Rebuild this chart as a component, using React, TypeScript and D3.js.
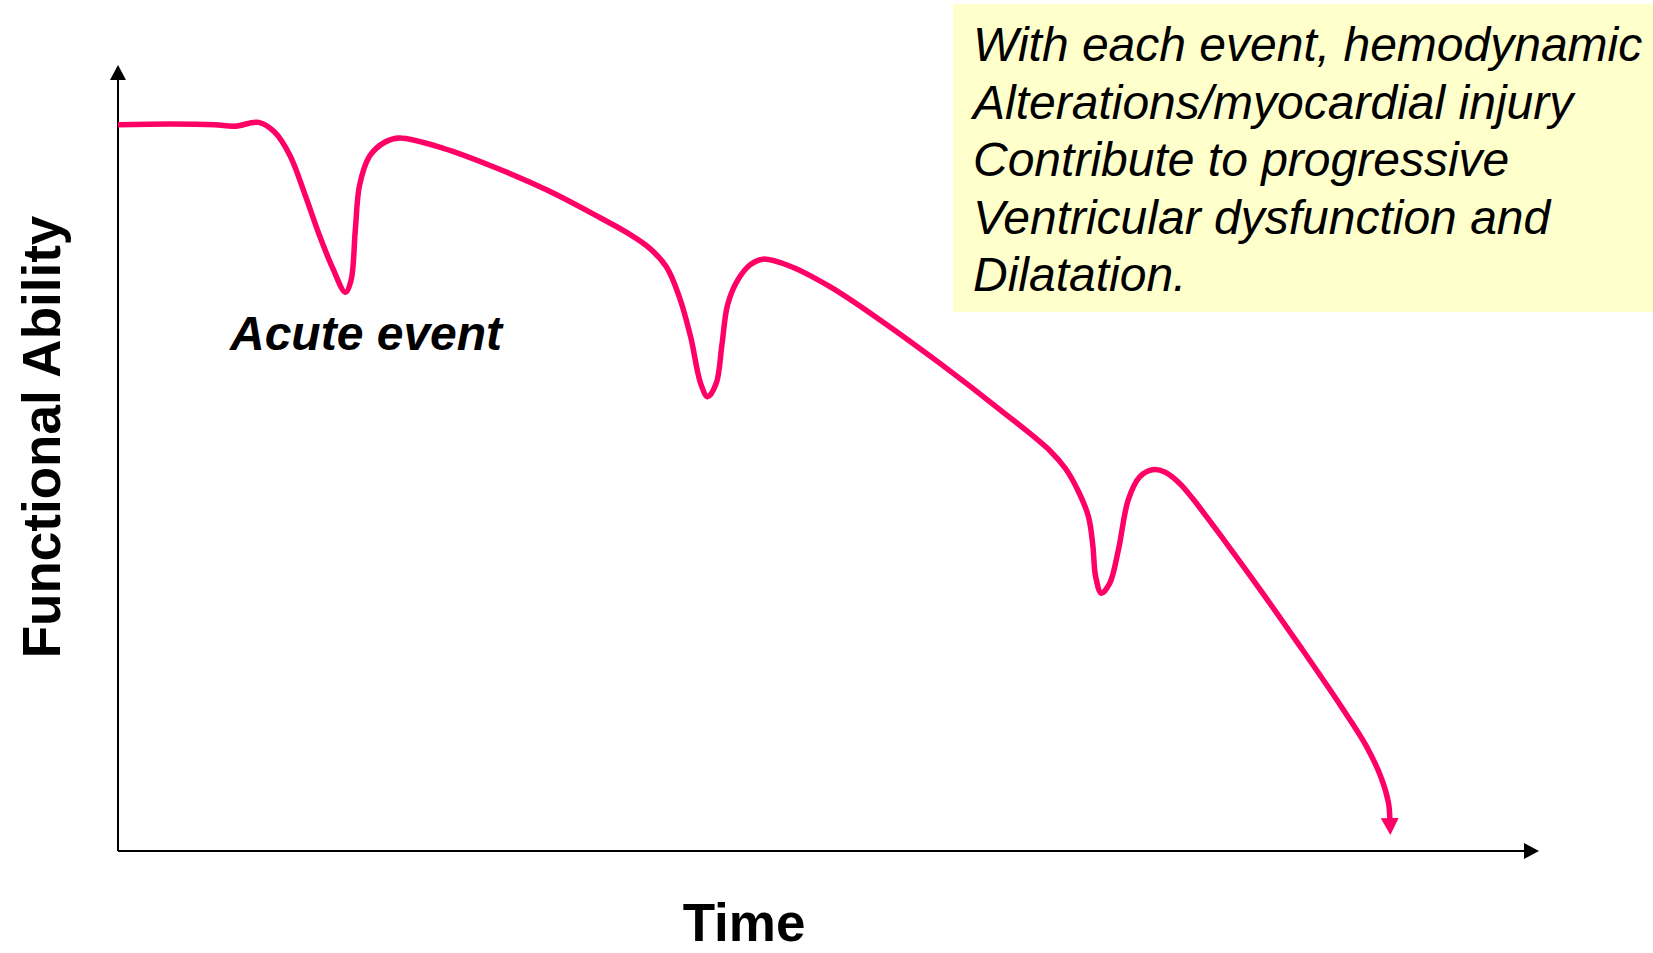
import React from "react";
import * as d3 from "d3";

// time (0-100) vs functional ability (0-100)
const times = [
  0.0, 3.7, 6.8, 8.2, 9.9, 11.0, 12.1, 13.2, 14.2, 15.1, 16.0, 16.4, 16.7, 17.0,
  17.7, 18.8, 19.8, 22.9, 26.5, 30.3, 34.0, 35.7, 37.4, 38.6, 39.5, 40.3, 41.0,
  41.5, 42.1, 42.5, 42.9, 43.6, 44.5, 45.4, 47.3, 50.1, 53.6, 57.8, 62.1, 65.6,
  66.7, 67.6, 68.3, 68.6, 68.8, 69.2, 69.8, 70.4, 71.1, 71.9, 72.8, 73.7, 74.7,
  75.6, 77.9, 80.4, 83.2, 86.0, 87.8, 88.9, 89.4, 89.5,
];
const ability = [
  92.4, 92.5, 92.4, 92.2, 92.7, 91.5, 88.5, 83.3, 78.2, 74.2, 71.1, 72.6, 79.0,
  84.7, 88.4, 90.2, 90.7, 89.4, 87.0, 84.0, 80.5, 78.8, 76.7, 74.3, 70.5, 65.4,
  59.5, 57.8, 59.5, 64.4, 69.5, 72.6, 74.6, 75.3, 74.4, 71.8, 67.6, 62.1, 56.1,
  50.9, 48.6, 45.7, 42.5, 38.9, 34.9, 32.8, 34.1, 38.3, 44.7, 47.6, 48.5, 48.2,
  46.8, 44.9, 39.4, 33.2, 26.0, 18.6, 13.5, 9.3, 6.2, 4.2,
];

const noteLines = [
  "With each event, hemodynamic",
  "Alterations/myocardial injury",
  "Contribute to progressive",
  "Ventricular dysfunction and",
  "Dilatation.",
];
const eventLabel = "Acute event";
const xTitle = "Time";
const yTitle = "Functional Ability";

const W = 1653;
const H = 953;
const FONT = "'Liberation Sans', Arial, sans-serif";
const PINK = "#ff0066";

export default function App() {
  const x = d3.scaleLinear().domain([0, 100]).range([118, 1539]);
  const y = d3.scaleLinear().domain([0, 100]).range([851, 65]);

  const pts: [number, number][] = times.map((t, i) => [t, ability[i]]);
  const line = d3
    .line<[number, number]>()
    .x((d) => x(d[0]))
    .y((d) => y(d[1]))
    .curve(d3.curveCatmullRom.alpha(0.5));

  const headX = 15;
  const headY = 15;

  return (
    <svg
      width={W}
      height={H}
      style={{ position: "absolute", left: 0, top: 0, display: "block", background: "#fff" }}
    >
      <defs>
        <marker
          id="pinkHead"
          viewBox="0 -9 17 18"
          refX={0}
          refY={0}
          markerWidth={17}
          markerHeight={18}
          markerUnits="userSpaceOnUse"
          orient="auto"
        >
          <path d="M0,-9L17,0L0,9Z" fill={PINK} />
        </marker>
        <marker
          id="axisHead"
          viewBox="0 -8 15 16"
          refX={0}
          refY={0}
          markerWidth={15}
          markerHeight={16}
          markerUnits="userSpaceOnUse"
          orient="auto"
        >
          <path d="M0,-8L15,0L0,8Z" fill="#000" />
        </marker>
      </defs>

      {/* note box */}
      <rect x={953} y={4} width={W - 953} height={308} fill="#ffffcc" />
      <text fontFamily={FONT} fontStyle="italic" fontSize={48} fill="#000">
        {noteLines.map((l, i) => (
          <tspan key={i} x={973} y={61 + i * 57.5}>
            {l}
          </tspan>
        ))}
      </text>

      {/* axes */}
      <line
        x1={x(0)}
        y1={y(0)}
        x2={x(0)}
        y2={y(100) + headY}
        stroke="#000"
        strokeWidth={2}
        markerEnd="url(#axisHead)"
      />
      <line
        x1={x(0)}
        y1={y(0)}
        x2={x(100) - headX}
        y2={y(0)}
        stroke="#000"
        strokeWidth={2}
        markerEnd="url(#axisHead)"
      />

      {/* curve */}
      <path
        d={line(pts) || ""}
        fill="none"
        stroke={PINK}
        strokeWidth={5.5}
        strokeLinejoin="round"
        markerEnd="url(#pinkHead)"
      />

      <text
        x={230}
        y={350}
        fontFamily={FONT}
        fontWeight="bold"
        fontStyle="italic"
        fontSize={48}
        fill="#000"
      >
        {eventLabel}
      </text>

      <text
        x={744}
        y={941}
        textAnchor="middle"
        fontFamily={FONT}
        fontWeight="bold"
        fontSize={53}
        fill="#000"
      >
        {xTitle}
      </text>

      <text
        transform="translate(60,437) rotate(-90)"
        textAnchor="middle"
        fontFamily={FONT}
        fontWeight="bold"
        fontSize={53}
        fill="#000"
      >
        {yTitle}
      </text>
    </svg>
  );
}
